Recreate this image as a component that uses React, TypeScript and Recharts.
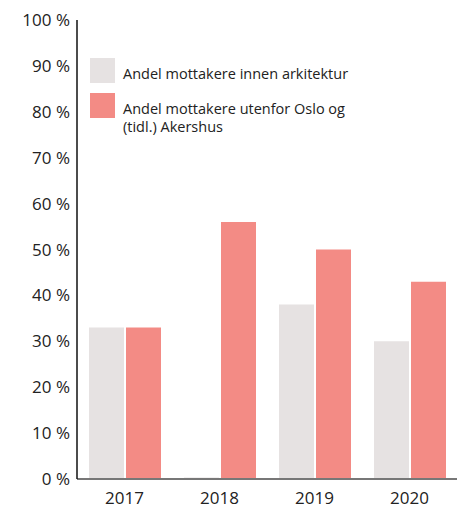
import React from "react";
import { Bar, BarChart, Legend, XAxis, YAxis } from "recharts";

const years = ["2017", "2018", "2019", "2020"];
const innenArkitektur = [33, 0.3, 38, 30];
const utenforOslo = [33, 56, 50, 43];
const yTicks = [0, 10, 20, 30, 40, 50, 60, 70, 80, 90, 100];

const GREY = "#e6e2e2";
const RED = "#f38b85";
const FONT = "'Open Sans', sans-serif";

const data = years.map((year, i) => ({
  year,
  innen: innenArkitektur[i],
  utenfor: utenforOslo[i],
}));

function LegendBox() {
  const items = [
    { color: GREY, lines: ["Andel mottakere innen arkitektur"] },
    { color: RED, lines: ["Andel mottakere utenfor Oslo og", "(tidl.) Akershus"] },
  ];
  return (
    <div style={{ fontFamily: FONT, fontSize: 14.5, color: "#222", textAlign: "left" }}>
      {items.map((it) => (
        <div key={it.lines[0]} style={{ display: "flex", marginBottom: 10 }}>
          <div style={{ width: 25, height: 25, background: it.color, flexShrink: 0 }} />
          <div style={{ marginLeft: 8, marginTop: 7, lineHeight: "18px" }}>
            {it.lines.map((l) => (
              <div key={l}>{l}</div>
            ))}
          </div>
        </div>
      ))}
    </div>
  );
}

export default function App() {
  return (
    <div style={{ width: 463, height: 509 }}>
      <style>{`body{margin:0}`}</style>
      <BarChart
        width={463}
        height={509}
        data={data}
        margin={{ top: 20, right: 6, left: 0, bottom: 0 }}
        barSize={35}
        barGap={2}
      >
        <XAxis
          dataKey="year"
          height={30}
          tickLine={false}
          tickMargin={7}
          axisLine={{ stroke: "#777", strokeWidth: 2 }}
          tick={{ fill: "#222", fontSize: 17, fontFamily: FONT }}
        />
        <YAxis
          width={77}
          domain={[0, 100]}
          ticks={yTicks}
          interval={0}
          tickLine={false}
          tickMargin={1}
          tickFormatter={(v) => `${v} %`}
          axisLine={{ stroke: "#111", strokeWidth: 1.5 }}
          tick={{ fill: "#222", fontSize: 17, fontFamily: FONT }}
        />
        <Legend
          layout="vertical"
          verticalAlign="middle"
          align="center"
          content={<LegendBox />}
          wrapperStyle={{ top: 58, left: 90, width: 300 }}
        />
        <Bar dataKey="innen" fill={GREY} isAnimationActive={false} />
        <Bar dataKey="utenfor" fill={RED} isAnimationActive={false} />
      </BarChart>
    </div>
  );
}
